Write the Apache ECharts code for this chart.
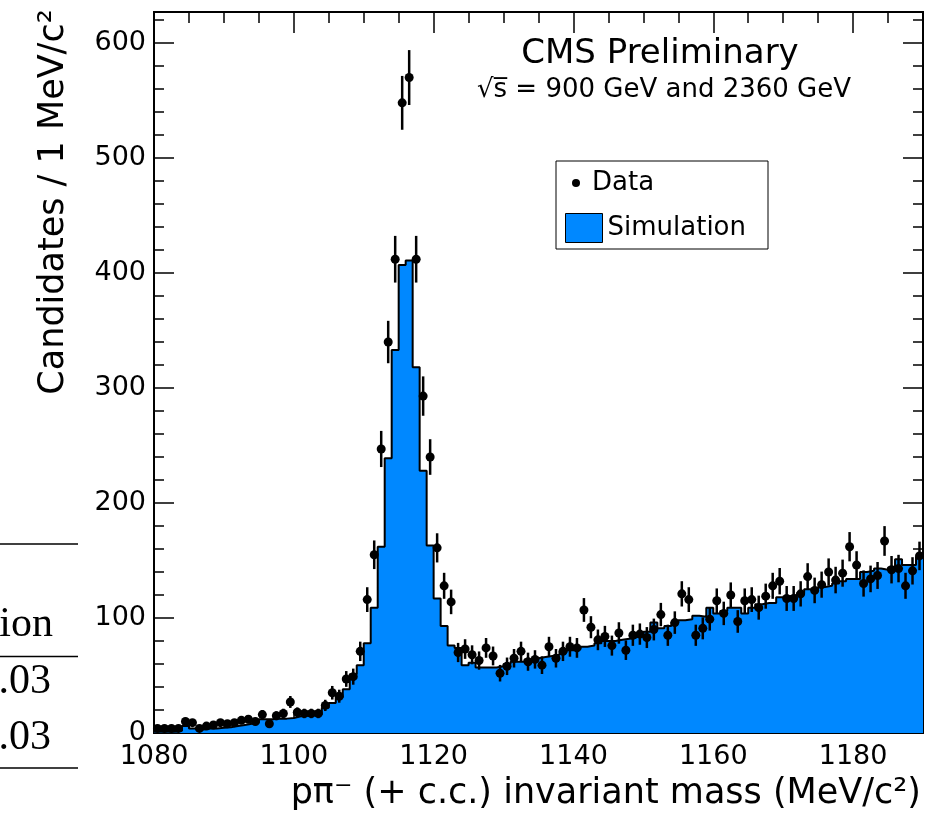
<!DOCTYPE html>
<html>
<head>
<meta charset="utf-8">
<title>p pi invariant mass</title>
<script src="https://cdn.jsdelivr.net/npm/echarts@6/dist/echarts.min.js"></script>
<style>
    html, body { margin: 0; padding: 0; background: #fff; }
    #chart { width: 943px; height: 816px; }
</style>
</head>
<body>
<div id="chart"></div>
<script>
// 1 MeV bins from 1080 to 1190
var binLow = 1080;
var binHigh = 1190;

var dataCounts = [
    4, 4, 4, 4, 10, 9, 4, 6, 7, 9,
    8, 9, 11, 12, 10, 16, 8, 15, 17, 27,
    18, 17, 17, 17, 24, 35, 32, 47, 49, 71,
    116, 155, 247, 340, 412, 548, 570, 412, 293, 240,
    161, 128, 114, 70, 73, 68, 63, 74, 67, 52,
    58, 65, 71, 62, 64, 59, 75, 65, 71, 75,
    74, 107, 92, 81, 84, 76, 87, 72, 85, 86,
    83, 90, 103, 85, 96, 121, 116, 85, 91, 99,
    115, 104, 120, 97, 115, 116, 109, 119, 128, 132,
    117, 117, 121, 136, 124, 129, 140, 133, 139, 162,
    146, 130, 134, 137, 167, 142, 143, 128, 141, 154
];

var simCounts = [
    1, 1, 1, 2, 6, 4, 3, 4, 4, 4.5,
    5, 6, 7, 8, 9, 12, 12, 12.5, 12.5, 13,
    14.5, 15, 15.5, 16, 22, 26, 31, 38, 51, 59,
    78, 109, 162, 239, 333, 407, 411, 318, 228, 163,
    117, 93, 76, 74, 59, 61, 57, 57, 57, 58,
    60, 62, 62, 64, 65, 66, 67, 68, 70, 72,
    73, 75, 76, 78, 80, 80, 81, 82, 83, 85,
    88, 96, 91, 93, 96, 98, 99, 102, 101, 109,
    104, 106, 109, 109, 104, 109, 112, 113, 113, 118,
    119, 120, 122, 125, 125, 127, 128, 130, 132, 134,
    134, 140, 141, 143, 142, 144, 151, 146, 146, 153
];

var xTickLabels = [1080, 1100, 1120, 1140, 1160, 1180];
var yTickLabels = [0, 100, 200, 300, 400, 500, 600];
var yMax = 627;

var font = 'DejaVu Sans';
var blue = '#0088ff';

var chart = echarts.init(document.getElementById('chart'));

// step outline: one point per lower bin edge, then the closing edge
var simLine = simCounts.map(function (v, i) {
    return [binLow + i, v];
});
simLine.push([binHigh, simCounts[simCounts.length - 1]]);

var dataPoints = dataCounts.map(function (v, i) {
    return [binLow + i + 0.5, v];
});

function xAxisDef(position, interval, tickLen, withLabels) {
    return {
        type: 'value',
        min: binLow,
        max: binHigh,
        interval: interval,
        position: position,
        axisLine: {show: true, onZero: false, lineStyle: {color: '#000', width: 2}},
        axisTick: {show: true, inside: true, length: tickLen, lineStyle: {color: '#000', width: 1.5}},
        axisLabel: withLabels ? {
            show: true,
            margin: 10,
            color: '#000',
            fontFamily: font,
            fontSize: 27,
            showMaxLabel: false,
            formatter: function (v) {
                return xTickLabels.indexOf(v) >= 0 ? String(v) : '';
            }
        } : {show: false},
        splitLine: {show: false}
    };
}

function yAxisDef(position, interval, tickLen, withLabels) {
    return {
        type: 'value',
        min: 0,
        max: yMax,
        interval: interval,
        position: position,
        axisLine: {show: true, onZero: false, lineStyle: {color: '#000', width: 2}},
        axisTick: {show: true, inside: true, length: tickLen, lineStyle: {color: '#000', width: 1.5}},
        axisLabel: withLabels ? {
            show: true,
            margin: 8,
            color: '#000',
            fontFamily: font,
            fontSize: 27,
            showMaxLabel: false,
            formatter: function (v) {
                return yTickLabels.indexOf(v) >= 0 ? String(v) : '';
            }
        } : {show: false},
        splitLine: {show: false}
    };
}

var option = {
    animation: false,
    backgroundColor: '#fff',
    grid: {left: 154, right: 20, top: 12, bottom: 83, containLabel: false},
    xAxis: [
        xAxisDef('bottom', 20, 21, true),
        xAxisDef('bottom', 5, 11, false),
        xAxisDef('top', 20, 21, false),
        xAxisDef('top', 5, 11, false)
    ],
    yAxis: [
        yAxisDef('left', 100, 20, true),
        yAxisDef('left', 20, 10, false),
        yAxisDef('right', 100, 20, false),
        yAxisDef('right', 20, 10, false)
    ],
    legend: [{
        data: [{name: 'Data', icon: 'circle'}],
        left: 572,
        top: 170,
        padding: 0,
        itemWidth: 22,
        itemHeight: 8,
        selectedMode: false,
        itemStyle: {color: '#000', opacity: 1},
        textStyle: {color: '#000', fontFamily: font, fontSize: 26}
    }, {
        data: [{name: 'Simulation', icon: 'rect', itemStyle: {color: blue, borderColor: '#000', borderWidth: 1}}],
        left: 565,
        top: 213,
        padding: 0,
        itemWidth: 37,
        itemHeight: 29,
        selectedMode: false,
        textStyle: {color: '#000', fontFamily: font, fontSize: 26}
    }],
    graphic: [
        // legend frame
        {type: 'rect', shape: {x: 556, y: 161, width: 212, height: 88}, style: {fill: 'none', stroke: '#000', lineWidth: 1}, z: 10},
        {type: 'text', x: 660, y: 54, style: {text: 'CMS Preliminary', fontFamily: font, fontSize: 34, fill: '#000', align: 'center', verticalAlign: 'middle'}, z: 10},
        {type: 'text', x: 664, y: 90, style: {text: '\u221As\u0305 = 900 GeV and 2360 GeV', fontFamily: font, fontSize: 26, fill: '#000', align: 'center', verticalAlign: 'middle'}, z: 10},
        {type: 'text', x: 54, y: 202, rotation: Math.PI / 2, style: {text: 'Candidates / 1 MeV/c\u00B2', fontFamily: font, fontSize: 35, fill: '#000', align: 'center', verticalAlign: 'middle'}, z: 10},
        {type: 'text', x: 921, y: 794, style: {text: 'p\u03C0\u207B (+ c.c.) invariant mass (MeV/c\u00B2)', fontFamily: font, fontSize: 35, fill: '#000', align: 'right', verticalAlign: 'middle'}, z: 10},
        // cropped table from the page on the left
        {type: 'line', shape: {x1: 0, y1: 544, x2: 78, y2: 544}, style: {stroke: '#000', lineWidth: 1.3}},
        {type: 'line', shape: {x1: 0, y1: 656.5, x2: 78, y2: 656.5}, style: {stroke: '#000', lineWidth: 1.3}},
        {type: 'line', shape: {x1: 0, y1: 768, x2: 78, y2: 768}, style: {stroke: '#000', lineWidth: 1.3}},
        {type: 'text', x: 53, y: 625, style: {text: 'ion', fontFamily: 'Liberation Serif', fontSize: 42, fill: '#000', align: 'right', verticalAlign: 'middle'}},
        {type: 'text', x: 51, y: 682, style: {text: '.03', fontFamily: 'Liberation Serif', fontSize: 42, fill: '#000', align: 'right', verticalAlign: 'middle'}},
        {type: 'text', x: 51, y: 738, style: {text: '.03', fontFamily: 'Liberation Serif', fontSize: 42, fill: '#000', align: 'right', verticalAlign: 'middle'}}
    ],
    series: [{
        name: 'Simulation',
        type: 'line',
        xAxisIndex: 0,
        yAxisIndex: 0,
        step: 'end',
        symbol: 'none',
        data: simLine,
        itemStyle: {color: blue},
        lineStyle: {color: '#000', width: 2},
        areaStyle: {color: blue, opacity: 1, origin: 'start'},
        z: 1
    }, {
        // sqrt(N) error bars on the data
        type: 'custom',
        xAxisIndex: 0,
        yAxisIndex: 0,
        renderItem: function (params, api) {
            var x = api.value(0);
            var v = api.value(1);
            var e = Math.sqrt(v);
            var p1 = api.coord([x, v - e]);
            var p2 = api.coord([x, v + e]);
            return {
                type: 'line',
                shape: {x1: p1[0], y1: p1[1], x2: p2[0], y2: p2[1]},
                style: {stroke: '#000', lineWidth: 2.5}
            };
        },
        data: dataPoints,
        z: 3
    }, {
        name: 'Data',
        type: 'scatter',
        xAxisIndex: 0,
        yAxisIndex: 0,
        symbol: 'circle',
        symbolSize: 9,
        itemStyle: {color: '#000', opacity: 1},
        data: dataPoints,
        z: 4
    }]
};

chart.setOption(option);
</script>
</body>
</html>
